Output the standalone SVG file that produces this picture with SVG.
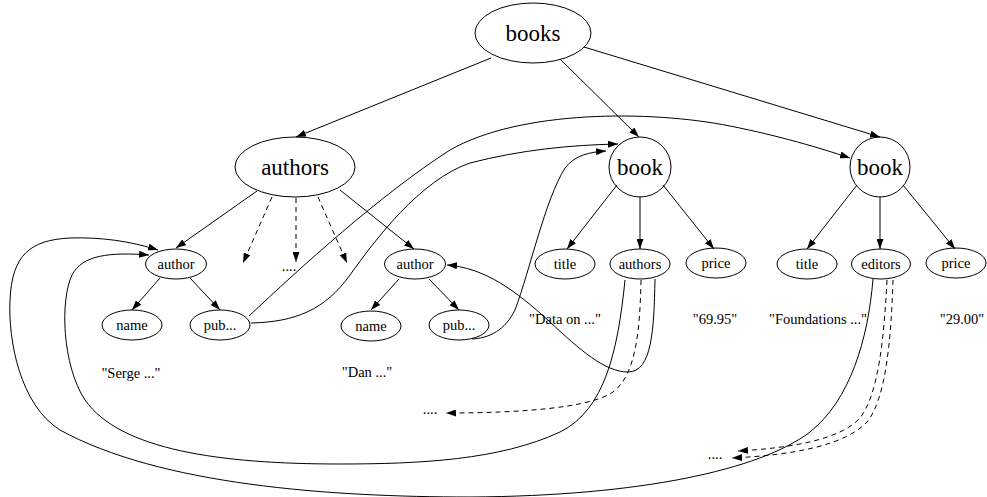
<svg xmlns="http://www.w3.org/2000/svg" width="987" height="497" viewBox="0 0 987 497">
<style>
.n{fill:none;stroke:#000;stroke-width:1}
.e{fill:none;stroke:#000;stroke-width:1;marker-end:url(#ah)}
.d{stroke-dasharray:5,4}
text{font-family:'Liberation Serif','Times New Roman',Tinos,'Nimbus Roman','FreeSerif','DejaVu Serif',serif;fill:#000;text-anchor:middle}
.b{font-size:23px}
.s{font-size:14.5px}
</style>
<defs>
<marker id="ah" markerUnits="userSpaceOnUse" markerWidth="10" markerHeight="7" refX="10" refY="3.5" orient="auto">
<path d="M0,0 L10,3.5 L0,7 z" fill="#000" stroke="none"/>
</marker>
</defs>
<rect width="987" height="497" fill="#fff"/>
<g id="connectors">
<path class="e" d="M491,58 L296,137"/>
<path class="e" d="M560,59 L639,137"/>
<path class="e" d="M584,47 L880,137"/>
<path class="e" d="M257,191 L176,248"/>
<path class="e" d="M340,190 L414,249"/>
<path class="e d" d="M272,197 L243,263"/>
<path class="e d" d="M296,198 L296,262"/>
<path class="e d" d="M318,197 L347,263"/>
<path class="e" d="M160,278 L132,310"/>
<path class="e" d="M190,278 L220,310"/>
<path class="e" d="M399,279 L371,310"/>
<path class="e" d="M429,279 L459,310"/>
<path class="e" d="M617,185 L567,249"/>
<path class="e" d="M640,197 L640,249"/>
<path class="e" d="M663,185 L714,249"/>
<path class="e" d="M857,185 L807,249"/>
<path class="e" d="M880,197 L880,249"/>
<path class="e" d="M903,185 L955,249"/>
<path class="e" d="M249,316 C300,268 380,195 450,150 C520,110 650,110 730,126 C780,136 820,148 850,158"/>
<path class="e" d="M251,323 C295,322 325,310 350,275 C375,240 420,180 470,163 C520,150 570,145 618,144"/>
<path class="e" d="M472,339 C490,338 505,330 515,310 C530,270 545,200 565,168 C575,155 590,152 606,151"/>
<path class="e" d="M655,279 C654,330 652,372 628,372 C605,372 580,350 550,322 C515,290 485,268 447,265"/>
<path class="e d" d="M641,280 C640,330 636,375 613,392 C590,408 520,413 446,413"/>
<path class="e" d="M625,280 C618,350 605,410 560,432 C500,460 420,464 340,464 C220,464 120,450 85,400 C62,365 60,300 72,275 C82,255 110,252 149,255"/>
<path class="e" d="M873,279 C868,340 850,400 810,432 C760,470 640,496 470,497 C330,497 160,485 60,430 C20,405 8,340 10,300 C12,255 30,240 70,238 C100,237 130,241 158,250"/>
<path class="e d" d="M887,280 C884,340 878,395 860,418 C840,440 790,448 738,451"/>
<path class="e d" d="M893,280 C891,345 885,400 867,422 C845,445 795,455 732,458"/>
</g>
<g id="books"><ellipse class="n" cx="533" cy="33" rx="58" ry="30"/><text class="b" x="533" y="41">books</text></g>
<g id="authors"><ellipse class="n" cx="295" cy="167" rx="60" ry="30"/><text class="b" x="295" y="175">authors</text></g>
<g id="book1"><ellipse class="n" cx="640" cy="167" rx="31" ry="30"/><text class="b" x="640" y="175">book</text></g>
<g id="book2"><ellipse class="n" cx="880" cy="167" rx="30" ry="30"/><text class="b" x="880" y="175">book</text></g>
<g id="author1"><ellipse class="n" cx="176" cy="264" rx="30.5" ry="15"/><text class="s" x="176" y="269">author</text></g>
<g id="author2"><ellipse class="n" cx="415" cy="264" rx="30.5" ry="15"/><text class="s" x="415" y="269">author</text></g>
<g id="name1"><ellipse class="n" cx="132" cy="325" rx="30" ry="15"/><text class="s" x="132" y="330">name</text></g>
<g id="pub1"><ellipse class="n" cx="220" cy="325" rx="30" ry="15"/><text class="s" x="220" y="330">pub...</text></g>
<g id="name2"><ellipse class="n" cx="371" cy="326" rx="30" ry="15"/><text class="s" x="371" y="331">name</text></g>
<g id="pub2"><ellipse class="n" cx="459" cy="325" rx="30" ry="15"/><text class="s" x="459" y="330">pub...</text></g>
<g id="title1"><ellipse class="n" cx="565" cy="264" rx="30" ry="15"/><text class="s" x="565" y="269">title</text></g>
<g id="bauthors"><ellipse class="n" cx="640" cy="264" rx="30" ry="15"/><text class="s" x="640" y="269">authors</text></g>
<g id="price1"><ellipse class="n" cx="716" cy="263" rx="30" ry="15"/><text class="s" x="716" y="268">price</text></g>
<g id="title2"><ellipse class="n" cx="807" cy="264" rx="30" ry="15"/><text class="s" x="807" y="269">title</text></g>
<g id="editors"><ellipse class="n" cx="881" cy="264" rx="29.5" ry="15"/><text class="s" x="881" y="269">editors</text></g>
<g id="price2"><ellipse class="n" cx="956" cy="263" rx="30" ry="15"/><text class="s" x="956" y="268">price</text></g>
<g id="labels">
<text class="s" x="131" y="378">"Serge ..."</text>
<text class="s" x="367" y="377">"Dan ..."</text>
<text class="s" x="565" y="324">"Data on ..."</text>
<text class="s" x="715" y="324">"69.95"</text>
<text class="s" x="818" y="324">"Foundations ..."</text>
<text class="s" x="962" y="324">"29.00"</text>
<text class="s" x="289" y="271">....</text>
<text class="s" x="430" y="414">....</text>
<text class="s" x="715" y="459">....</text>
</g>
</svg>
